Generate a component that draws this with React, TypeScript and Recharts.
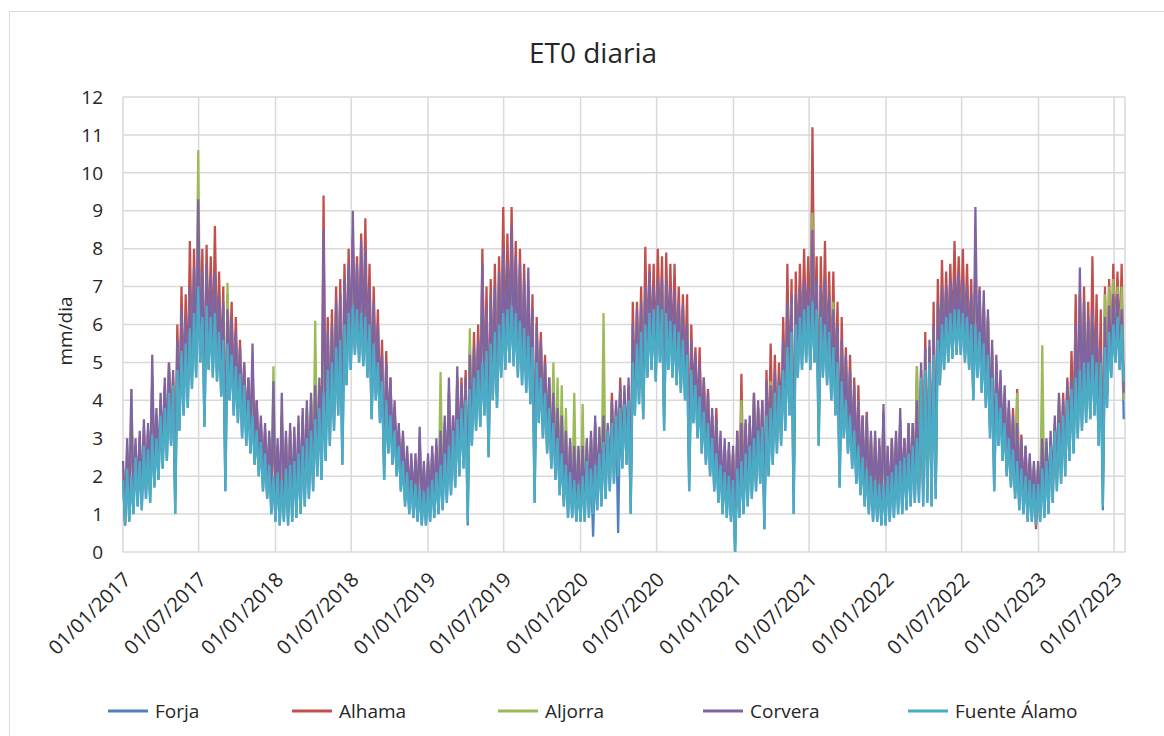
import { LineChart, Line, XAxis, YAxis, CartesianGrid } from "recharts";

// Each series is read as 10-day windows from 01/01/2017: the window's high
// (plotted at the window start) and its low (plotted 5 days later).
const WINDOW_DAYS = 10;

const forjaHigh = [
  1.9, 2.2, 2.0, 2.5, 2.4, 2.8, 2.7, 3.1, 3.0, 3.6,
  3.8, 4.2, 4.4, 4.8, 5.3, 5.5, 5.9, 6.3, 7.0, 6.2,
  6.5, 6.2, 6.3, 5.8, 5.6, 5.5, 5.2, 4.9, 4.7, 4.4,
  4.0, 3.6, 3.2, 2.9, 2.6, 2.3, 2.0, 2.1, 1.9, 2.2,
  2.3, 2.4, 2.6, 2.8, 3.0, 3.2, 3.5, 3.8, 4.2, 4.8,
  5.0, 5.4, 5.6, 6.0, 6.3, 6.5, 6.4, 6.3, 6.2, 6.0,
  5.5, 5.0, 4.5, 4.0, 3.6, 3.2, 2.8, 2.4, 2.1, 1.9,
  1.8, 1.7, 1.6, 1.7, 1.9, 2.1, 2.3, 2.6, 2.8, 3.2,
  3.5, 3.8, 4.0, 4.3, 4.6, 4.8, 5.0, 5.3, 5.5, 5.8,
  6.0, 6.3, 6.4, 6.5, 6.3, 6.1, 5.9, 5.7, 5.4, 5.0,
  4.6, 4.2, 3.8, 3.4, 3.0, 2.6, 2.3, 2.1, 1.9, 1.8,
  2.0, 2.4, 2.2, 2.3, 2.6, 2.9, 3.2, 3.4, 3.6, 3.8,
  3.9, 4.0, 5.0, 5.5, 5.8, 6.0, 6.3, 6.4, 6.5, 6.4,
  6.3, 6.1, 6.0, 5.8, 5.6, 5.2, 4.8, 4.4, 4.1, 3.7,
  3.4, 3.0, 2.6, 2.3, 2.1, 2.0, 1.9, 2.2, 2.4, 2.6,
  2.8, 3.0, 3.2, 3.3, 3.6, 3.8, 4.2, 4.4, 4.8, 5.4,
  5.8, 6.0, 6.2, 6.4, 6.5, 6.6, 6.4, 6.2, 6.0, 5.8,
  5.4, 5.0, 4.5, 4.0, 3.6, 3.2, 2.8, 2.5, 2.2, 2.0,
  1.9, 1.8, 1.8, 2.0, 2.1, 2.3, 2.4, 2.5, 2.6, 2.8,
  3.0, 4.6, 4.8, 5.0, 5.2, 5.6, 6.0, 6.2, 6.3, 6.4,
  6.4, 6.3, 6.2, 6.0, 6.0, 5.8, 5.5, 5.2, 4.6, 4.2,
  3.8, 3.4, 3.0, 2.7, 2.4, 2.2, 2.0, 1.9, 1.8, 1.8,
  2.2, 2.4, 2.8, 3.2, 3.4, 3.6, 4.0, 4.3, 4.6, 4.8,
  5.0, 5.0, 5.2, 5.0, 5.0, 5.4, 5.8, 6.0, 6.2, 6.0,
];
const forjaLow = [
  0.7, 0.8, 1.0, 1.2, 1.1, 1.4, 1.3, 1.7, 1.9, 2.2,
  2.4, 2.8, 1.0, 3.2, 3.6, 3.8, 4.3, 4.6, 5.0, 3.3,
  4.8, 4.6, 4.5, 4.1, 1.6, 4.0, 3.6, 3.4, 3.0, 2.8,
  2.6, 2.3, 2.0, 1.6, 1.4, 1.0, 0.8, 0.7, 0.8, 0.7,
  0.8, 0.9, 1.0, 1.2, 1.4, 1.6, 2.0, 1.9, 2.4, 2.8,
  3.2, 3.6, 2.3, 4.4, 4.8, 5.2, 5.0, 4.9, 4.6, 3.5,
  4.0, 3.4, 1.9, 2.6, 2.3, 2.0, 1.6, 1.2, 1.0, 0.9,
  0.8, 0.7, 0.7, 0.8, 0.9, 1.0, 1.1, 1.3, 1.5, 1.7,
  2.0, 2.2, 0.7, 2.8, 3.2, 3.3, 3.6, 2.5, 4.0, 3.8,
  4.6, 4.8, 5.0, 4.9, 4.6, 4.4, 4.2, 3.9, 1.3, 3.4,
  3.0, 2.6, 2.2, 1.9, 1.5, 1.2, 0.9, 0.9, 0.8, 0.8,
  0.8, 0.9, 0.4, 1.1, 1.2, 1.4, 1.6, 1.8, 0.5, 2.2,
  2.3, 1.0, 3.6, 3.9, 3.5, 4.6, 4.8, 4.5, 5.0, 3.2,
  4.8, 4.6, 4.4, 4.2, 4.0, 1.6, 3.4, 3.0, 2.6, 2.3,
  2.0, 1.6, 1.3, 1.0, 0.9, 0.8, 0.0, 0.9, 1.0, 1.2,
  1.4, 1.6, 1.8, 0.6, 2.0, 2.3, 2.6, 2.8, 3.2, 3.6,
  1.0, 4.6, 4.8, 5.0, 4.8, 5.0, 2.8, 4.6, 4.4, 4.0,
  3.6, 1.7, 3.0, 2.6, 2.2, 1.8, 1.5, 1.2, 1.0, 0.8,
  0.8, 0.7, 0.7, 0.8, 0.9, 1.0, 1.0, 1.1, 1.2, 1.3,
  1.3, 1.2, 1.3, 1.2, 1.4, 4.4, 4.8, 5.0, 5.1, 5.2,
  5.2, 5.0, 4.8, 4.0, 4.6, 4.2, 3.8, 3.0, 1.6, 2.8,
  2.4, 2.0, 1.7, 1.4, 1.1, 1.0, 0.8, 0.8, 0.7, 0.8,
  0.9, 1.0, 1.3, 1.6, 1.8, 2.0, 2.4, 2.6, 3.0, 3.2,
  3.4, 3.5, 3.6, 2.8, 1.1, 3.8, 4.6, 5.0, 4.8, 3.5,
];

const alhamaHigh = [
  2.2, 2.6, 3.6, 2.8, 3.0, 3.2, 3.2, 4.6, 3.6, 4.0,
  4.4, 5.0, 4.6, 6.0, 7.0, 6.8, 8.2, 8.0, 8.7, 8.0,
  8.1, 7.8, 8.6, 7.4, 7.0, 6.8, 6.6, 6.2, 5.6, 5.0,
  4.6, 4.8, 4.0, 3.4, 3.2, 3.0, 3.6, 2.8, 3.6, 3.0,
  3.2, 3.0, 3.4, 3.6, 3.8, 4.0, 4.2, 4.4, 9.4, 6.2,
  6.4, 7.0, 7.2, 7.6, 8.0, 8.3, 7.8, 8.4, 8.8, 7.6,
  7.0, 6.4, 5.6, 5.3, 4.6, 3.8, 3.2, 3.0, 2.6, 2.4,
  2.4, 3.0, 2.2, 2.4, 2.6, 2.8, 3.0, 3.4, 4.2, 3.6,
  4.6, 4.6, 4.8, 5.4, 5.8, 6.0, 8.0, 7.0, 7.2, 7.6,
  7.8, 9.1, 8.4, 9.1, 8.2, 8.0, 7.6, 7.0, 6.8, 6.2,
  5.8, 5.2, 4.6, 4.0, 3.8, 3.8, 3.0, 2.8, 2.6, 2.6,
  2.6, 2.8, 3.0, 3.4, 3.0, 3.6, 3.2, 4.2, 3.8, 4.6,
  4.2, 4.4, 6.6, 6.6, 7.0, 8.05, 7.6, 7.6, 8.0, 7.8,
  7.9, 7.6, 7.6, 7.0, 6.8, 6.8, 6.0, 5.4, 5.4, 4.6,
  4.3, 3.6, 3.8, 3.0, 2.8, 2.7, 2.6, 3.2, 4.7, 3.4,
  3.4, 4.2, 3.8, 4.0, 4.8, 5.5, 5.2, 5.0, 6.2, 7.6,
  7.2, 7.4, 7.6, 8.0, 7.8, 11.2, 7.8, 7.8, 8.2, 7.4,
  7.4, 6.6, 6.2, 5.4, 5.2, 4.6, 4.4, 3.6, 3.7, 3.0,
  3.0, 2.8, 3.7, 2.6, 3.0, 3.0, 3.5, 3.0, 3.4, 3.4,
  4.9, 4.8, 5.8, 5.4, 6.6, 7.2, 7.7, 7.4, 7.6, 8.2,
  7.8, 8.0, 7.6, 7.2, 7.4, 7.0, 6.5, 6.2, 5.3, 5.0,
  4.4, 4.0, 3.8, 3.8, 4.3, 3.1, 2.8, 2.4, 2.2, 2.2,
  2.8, 2.8, 3.0, 3.4, 4.0, 4.2, 4.6, 5.3, 6.8, 6.8,
  7.0, 6.6, 7.8, 6.8, 6.4, 7.0, 7.2, 7.6, 7.4, 7.6,
];
const alhamaLow = [
  0.7, 1.3, 1.4, 1.6, 1.5, 1.8, 1.8, 2.1, 2.3, 2.7,
  2.9, 3.3, 1.8, 3.7, 4.2, 4.4, 5.0, 5.3, 5.9, 4.2,
  5.6, 5.4, 5.2, 4.8, 2.6, 4.7, 4.2, 4.0, 3.6, 3.3,
  3.1, 2.8, 2.5, 2.1, 1.9, 1.5, 1.3, 1.2, 1.3, 1.2,
  1.3, 1.4, 1.5, 1.7, 1.9, 2.1, 2.5, 2.5, 2.9, 3.4,
  3.8, 4.2, 3.2, 5.0, 5.4, 5.8, 5.6, 5.5, 5.2, 4.2,
  4.6, 4.0, 2.5, 3.1, 2.8, 2.5, 2.1, 1.7, 1.5, 1.4,
  1.3, 1.2, 1.2, 1.3, 1.4, 1.5, 1.6, 1.8, 2.0, 2.2,
  2.5, 2.7, 1.5, 3.3, 3.7, 3.8, 4.2, 3.2, 4.6, 4.4,
  5.2, 5.4, 5.6, 5.6, 5.2, 5.0, 4.8, 4.5, 2.2, 4.0,
  3.5, 3.1, 2.7, 2.4, 2.0, 1.7, 1.4, 1.4, 1.3, 1.3,
  1.3, 1.4, 1.5, 1.6, 1.7, 1.9, 2.1, 2.3, 2.5, 2.7,
  2.8, 1.6, 4.2, 4.5, 4.2, 5.2, 5.4, 5.2, 5.6, 4.0,
  5.4, 5.2, 5.0, 4.8, 4.6, 2.4, 4.0, 3.5, 3.1, 2.8,
  2.5, 2.1, 1.8, 1.5, 1.4, 1.3, 0.7, 1.4, 1.5, 1.7,
  1.9, 2.1, 2.3, 1.3, 2.5, 2.8, 3.1, 3.3, 3.8, 4.2,
  1.8, 5.2, 5.4, 5.6, 5.4, 5.6, 3.6, 5.2, 5.0, 4.6,
  4.2, 2.3, 3.5, 3.1, 2.7, 2.3, 2.0, 1.7, 1.5, 1.3,
  1.3, 1.2, 1.2, 1.3, 1.4, 1.5, 1.5, 1.6, 1.7, 1.8,
  1.8, 1.7, 1.8, 1.7, 1.9, 5.0, 5.4, 5.6, 5.7, 5.8,
  5.8, 5.6, 5.4, 4.6, 5.2, 4.8, 4.4, 3.5, 2.3, 3.3,
  2.9, 2.5, 2.2, 1.9, 1.6, 1.5, 1.3, 1.3, 0.6, 1.3,
  1.4, 1.5, 1.8, 2.1, 2.3, 2.5, 2.9, 3.1, 3.5, 3.8,
  4.0, 4.0, 4.2, 3.4, 2.0, 4.4, 5.2, 5.6, 5.4, 4.4,
];

const aljorraHigh = [
  2.2, 2.8, 4.3, 2.8, 3.0, 3.3, 3.2, 4.6, 3.6, 3.9,
  4.3, 4.8, 4.5, 5.4, 6.2, 6.0, 6.8, 7.2, 10.6, 7.0,
  7.2, 7.0, 7.1, 6.5, 6.3, 7.1, 5.9, 5.6, 5.2, 4.8,
  4.4, 4.8, 3.8, 3.4, 3.2, 3.0, 4.9, 2.8, 3.6, 2.9,
  3.2, 3.1, 3.4, 3.6, 3.8, 4.0, 6.1, 4.4, 5.4, 5.6,
  5.8, 6.4, 6.6, 6.9, 7.2, 7.6, 7.2, 7.4, 7.4, 6.6,
  6.2, 5.6, 4.9, 4.8, 4.3, 3.8, 3.2, 3.0, 2.6, 2.4,
  2.4, 3.0, 2.2, 2.4, 2.6, 2.8, 4.75, 3.4, 4.2, 3.4,
  4.6, 4.2, 4.4, 5.9, 5.2, 5.4, 7.0, 6.2, 6.6, 6.8,
  7.1, 7.8, 7.3, 8.0, 7.4, 7.2, 6.9, 6.8, 6.1, 5.8,
  5.3, 4.8, 4.3, 5.0, 4.6, 4.4, 3.8, 2.9, 4.2, 2.7,
  3.9, 2.9, 3.0, 3.4, 3.1, 6.3, 3.2, 3.8, 3.8, 4.2,
  4.2, 4.3, 5.8, 6.2, 6.3, 6.9, 7.1, 6.8, 7.0, 7.0,
  7.0, 6.8, 6.7, 6.4, 6.2, 5.8, 5.4, 5.0, 4.8, 4.4,
  4.0, 3.6, 3.4, 3.0, 2.8, 2.7, 2.6, 3.0, 4.0, 3.3,
  3.4, 4.0, 3.8, 3.8, 4.3, 4.5, 4.6, 4.4, 5.4, 6.4,
  6.6, 6.6, 6.8, 7.0, 6.8, 8.95, 7.0, 6.8, 7.0, 6.6,
  6.6, 5.8, 5.4, 5.0, 4.6, 4.2, 4.0, 3.4, 3.4, 3.0,
  3.0, 2.8, 3.4, 2.6, 2.8, 3.0, 3.4, 2.8, 3.2, 3.2,
  4.9, 4.8, 5.2, 5.4, 5.8, 6.5, 6.9, 6.8, 7.0, 7.0,
  7.2, 7.0, 6.8, 6.6, 7.0, 6.7, 6.6, 6.2, 5.4, 4.9,
  4.6, 4.2, 3.8, 3.4, 4.2, 2.9, 2.7, 2.5, 2.3, 2.3,
  5.45, 2.9, 3.0, 3.4, 4.1, 3.8, 4.3, 4.4, 5.8, 6.8,
  6.4, 6.0, 6.2, 5.8, 5.2, 6.8, 7.0, 7.2, 7.0, 7.0,
];
const aljorraLow = [
  1.0, 1.1, 1.2, 1.4, 1.3, 1.6, 1.6, 1.9, 2.1, 2.5,
  2.7, 3.1, 1.4, 3.5, 3.9, 4.1, 4.6, 4.9, 5.4, 3.8,
  5.2, 5.0, 4.9, 4.5, 2.2, 4.4, 3.9, 3.7, 3.3, 3.1,
  2.9, 2.6, 2.3, 1.9, 1.7, 1.3, 1.1, 1.0, 1.1, 1.0,
  1.1, 1.2, 1.3, 1.5, 1.7, 1.9, 2.3, 2.3, 2.7, 3.2,
  3.5, 3.9, 2.8, 4.7, 5.1, 5.5, 5.3, 5.2, 4.9, 3.9,
  4.3, 3.7, 2.3, 2.9, 2.6, 2.3, 1.9, 1.5, 1.3, 1.2,
  1.1, 1.0, 1.0, 1.1, 1.2, 1.3, 1.4, 1.6, 1.8, 2.0,
  2.3, 2.5, 1.2, 3.1, 3.5, 3.6, 3.9, 2.9, 4.3, 4.1,
  4.9, 5.1, 5.3, 5.3, 4.9, 4.7, 4.5, 4.2, 1.8, 3.7,
  3.3, 2.9, 2.5, 2.2, 1.8, 1.5, 1.2, 1.2, 1.1, 1.1,
  1.1, 1.2, 1.3, 1.4, 1.5, 1.7, 1.9, 2.1, 2.3, 2.5,
  2.6, 1.3, 3.9, 4.2, 3.9, 4.9, 5.1, 4.9, 5.3, 3.6,
  5.1, 4.9, 4.7, 4.5, 4.3, 2.0, 3.7, 3.3, 2.9, 2.6,
  2.3, 1.9, 1.6, 1.3, 1.2, 1.1, 0.4, 1.2, 1.3, 1.5,
  1.7, 1.9, 2.1, 1.0, 2.3, 2.6, 2.9, 3.1, 3.5, 3.9,
  1.4, 4.9, 5.1, 5.3, 5.1, 5.3, 3.2, 4.9, 4.7, 4.3,
  3.9, 2.0, 3.3, 2.9, 2.5, 2.1, 1.8, 1.5, 1.3, 1.1,
  1.1, 1.0, 1.0, 1.1, 1.2, 1.3, 1.3, 1.4, 1.5, 1.6,
  1.6, 1.5, 1.6, 1.5, 1.7, 4.7, 5.1, 5.3, 5.4, 5.5,
  5.5, 5.3, 5.1, 4.3, 4.9, 4.5, 4.1, 3.3, 2.0, 3.1,
  2.7, 2.3, 2.0, 1.7, 1.4, 1.3, 1.1, 1.1, 1.0, 1.1,
  1.2, 1.3, 1.6, 1.9, 2.1, 2.3, 2.7, 2.9, 3.3, 3.5,
  3.7, 3.8, 3.9, 3.1, 1.6, 4.1, 4.9, 5.3, 5.1, 4.0,
];

const corveraHigh = [
  2.4, 3.0, 4.3, 3.0, 3.2, 3.5, 3.4, 5.2, 3.8, 4.2,
  4.6, 5.0, 4.8, 5.6, 6.4, 6.2, 7.0, 7.5, 9.3, 7.4,
  7.6, 7.3, 7.4, 6.8, 6.6, 6.4, 6.2, 5.8, 5.4, 5.0,
  4.6, 5.5, 4.0, 3.6, 3.4, 3.2, 4.5, 3.0, 4.2, 3.2,
  3.4, 3.3, 3.6, 3.8, 4.0, 4.2, 4.4, 4.6, 8.5, 5.8,
  6.0, 6.6, 6.8, 7.2, 7.6, 9.0, 7.6, 8.2, 8.0, 7.0,
  6.6, 6.0, 5.2, 5.0, 4.6, 4.0, 3.4, 3.2, 2.8, 2.6,
  2.6, 3.3, 2.4, 2.6, 2.8, 3.0, 3.2, 3.6, 4.6, 3.6,
  4.9, 4.4, 4.6, 5.2, 5.4, 5.6, 7.6, 6.4, 6.8, 7.0,
  7.4, 8.0, 7.6, 8.6, 7.8, 7.6, 7.2, 7.5, 6.4, 6.0,
  5.6, 5.0, 4.6, 4.2, 3.8, 3.6, 3.2, 3.0, 2.8, 2.8,
  2.8, 3.0, 3.2, 3.6, 3.3, 3.6, 3.4, 4.0, 4.0, 4.4,
  4.4, 4.6, 6.0, 6.4, 6.6, 7.0, 7.4, 7.0, 7.2, 7.2,
  7.2, 7.0, 6.9, 6.6, 6.5, 6.0, 5.6, 5.2, 5.0, 4.6,
  4.2, 3.8, 3.5, 3.2, 3.0, 2.9, 2.8, 3.2, 3.4, 3.5,
  3.6, 4.2, 4.0, 4.0, 4.5, 4.4, 4.8, 4.6, 5.6, 6.6,
  6.8, 6.8, 7.0, 7.2, 7.0, 8.5, 7.2, 7.0, 7.2, 6.8,
  6.4, 6.0, 5.6, 5.2, 4.8, 4.4, 4.0, 3.6, 3.6, 3.2,
  3.2, 3.0, 3.9, 2.8, 3.0, 3.2, 3.8, 3.0, 3.4, 3.4,
  4.0, 5.0, 5.4, 5.6, 6.0, 6.6, 7.0, 7.0, 7.2, 7.2,
  7.4, 7.2, 7.0, 6.8, 9.1, 6.9, 6.9, 6.4, 5.6, 5.2,
  4.8, 4.4, 4.0, 3.6, 3.4, 3.0, 2.8, 2.6, 2.4, 2.4,
  3.0, 3.0, 3.2, 3.6, 4.2, 4.0, 4.5, 4.6, 6.0, 7.5,
  6.6, 6.2, 6.4, 6.0, 5.4, 6.2, 6.5, 6.8, 6.8, 6.4,
];
const corveraLow = [
  1.0, 1.2, 1.3, 1.5, 1.4, 1.7, 1.7, 2.0, 2.2, 2.6,
  2.8, 3.2, 1.6, 3.6, 4.0, 4.2, 4.8, 5.0, 5.6, 4.0,
  5.4, 5.2, 5.0, 4.6, 2.4, 4.5, 4.0, 3.8, 3.4, 3.2,
  3.0, 2.7, 2.4, 2.0, 1.8, 1.4, 1.2, 1.1, 1.2, 1.1,
  1.2, 1.3, 1.4, 1.6, 1.8, 2.0, 2.4, 2.4, 2.8, 3.3,
  3.6, 4.0, 3.0, 4.8, 5.2, 5.6, 5.4, 5.3, 5.0, 4.0,
  4.4, 3.8, 2.4, 3.0, 2.7, 2.4, 2.0, 1.6, 1.4, 1.3,
  1.2, 1.1, 1.1, 1.2, 1.3, 1.4, 1.5, 1.7, 1.9, 2.1,
  2.4, 2.6, 1.4, 3.2, 3.6, 3.7, 4.0, 3.0, 4.4, 4.2,
  5.0, 5.2, 5.4, 5.4, 5.0, 4.8, 4.6, 4.3, 2.0, 3.8,
  3.4, 3.0, 2.6, 2.3, 1.9, 1.6, 1.3, 1.3, 1.2, 1.2,
  1.2, 1.3, 1.4, 1.5, 1.6, 1.8, 2.0, 2.2, 2.4, 2.6,
  2.7, 1.5, 4.0, 4.3, 4.0, 5.0, 5.2, 5.0, 5.4, 3.8,
  5.2, 5.0, 4.8, 4.6, 4.4, 2.2, 3.8, 3.4, 3.0, 2.7,
  2.4, 2.0, 1.7, 1.4, 1.3, 1.2, 0.6, 1.3, 1.4, 1.6,
  1.8, 2.0, 2.2, 1.2, 2.4, 2.7, 3.0, 3.2, 3.6, 4.0,
  1.6, 5.0, 5.2, 5.4, 5.2, 5.4, 3.4, 5.0, 4.8, 4.4,
  4.0, 2.2, 3.4, 3.0, 2.6, 2.2, 1.9, 1.6, 1.4, 1.2,
  1.2, 1.1, 1.1, 1.2, 1.3, 1.4, 1.4, 1.5, 1.6, 1.7,
  1.7, 1.6, 1.7, 1.6, 1.8, 4.8, 5.2, 5.4, 5.5, 5.6,
  5.6, 5.4, 5.2, 4.4, 5.0, 4.6, 4.2, 3.4, 2.2, 3.2,
  2.8, 2.4, 2.1, 1.8, 1.5, 1.4, 1.2, 1.2, 1.1, 1.2,
  1.3, 1.4, 1.7, 2.0, 2.2, 2.4, 2.8, 3.0, 3.4, 3.6,
  3.8, 3.9, 4.0, 3.2, 1.8, 4.2, 5.0, 5.4, 5.2, 4.2,
];

const fuenteAlamoHigh = [
  1.9, 2.2, 2.0, 2.5, 2.4, 2.8, 2.7, 3.1, 3.0, 3.6,
  3.8, 4.2, 4.4, 4.8, 5.3, 5.5, 5.9, 6.3, 7.0, 6.2,
  6.5, 6.2, 6.3, 5.8, 5.6, 5.5, 5.2, 4.9, 4.7, 4.4,
  4.0, 3.6, 3.2, 2.9, 2.6, 2.3, 2.0, 2.1, 1.9, 2.2,
  2.3, 2.4, 2.6, 2.8, 3.0, 3.2, 3.5, 3.8, 4.2, 4.8,
  5.0, 5.4, 5.6, 6.0, 6.3, 6.5, 6.4, 6.3, 6.2, 6.0,
  5.5, 5.0, 4.5, 4.0, 3.6, 3.2, 2.8, 2.4, 2.1, 1.9,
  1.8, 1.7, 1.6, 1.7, 1.9, 2.1, 2.3, 2.6, 2.8, 3.2,
  3.5, 3.8, 4.0, 4.3, 4.6, 4.8, 5.0, 5.3, 5.5, 5.8,
  6.0, 6.3, 6.4, 6.5, 6.3, 6.1, 5.9, 5.7, 5.4, 5.0,
  4.6, 4.2, 3.8, 3.4, 3.0, 2.6, 2.3, 2.1, 1.9, 1.8,
  2.0, 2.4, 2.2, 2.3, 2.6, 2.9, 3.2, 3.4, 3.6, 3.8,
  3.9, 4.0, 5.0, 5.5, 5.8, 6.0, 6.3, 6.4, 6.5, 6.4,
  6.3, 6.1, 6.0, 5.8, 5.6, 5.2, 4.8, 4.4, 4.1, 3.7,
  3.4, 3.0, 2.6, 2.3, 2.1, 2.0, 1.9, 2.2, 2.4, 2.6,
  2.8, 3.0, 3.2, 3.3, 3.6, 3.8, 4.2, 4.4, 4.8, 5.4,
  5.8, 6.0, 6.2, 6.4, 6.5, 6.6, 6.4, 6.2, 6.0, 5.8,
  5.4, 5.0, 4.5, 4.0, 3.6, 3.2, 2.8, 2.5, 2.2, 2.0,
  1.9, 1.8, 1.8, 2.0, 2.1, 2.3, 2.4, 2.5, 2.6, 2.8,
  3.0, 4.6, 4.8, 5.0, 5.2, 5.6, 6.0, 6.2, 6.3, 6.4,
  6.4, 6.3, 6.2, 6.0, 6.0, 5.8, 5.5, 5.2, 4.6, 4.2,
  3.8, 3.4, 3.0, 2.7, 2.4, 2.2, 2.0, 1.9, 1.8, 1.8,
  2.2, 2.4, 2.8, 3.2, 3.4, 3.6, 4.0, 4.3, 4.6, 4.8,
  5.0, 5.0, 5.2, 5.0, 5.0, 5.4, 5.8, 6.0, 6.2, 6.0,
];
const fuenteAlamoLow = [
  0.7, 0.8, 1.0, 1.2, 1.1, 1.4, 1.3, 1.7, 1.9, 2.2,
  2.4, 2.8, 1.0, 3.2, 3.6, 3.8, 4.3, 4.6, 5.0, 3.3,
  4.8, 4.6, 4.5, 4.1, 1.6, 4.0, 3.6, 3.4, 3.0, 2.8,
  2.6, 2.3, 2.0, 1.6, 1.4, 1.0, 0.8, 0.7, 0.8, 0.7,
  0.8, 0.9, 1.0, 1.2, 1.4, 1.6, 2.0, 1.9, 2.4, 2.8,
  3.2, 3.6, 2.3, 4.4, 4.8, 5.2, 5.0, 4.9, 4.6, 3.5,
  4.0, 3.4, 1.9, 2.6, 2.3, 2.0, 1.6, 1.2, 1.0, 0.9,
  0.8, 0.7, 0.7, 0.8, 0.9, 1.0, 1.1, 1.3, 1.5, 1.7,
  2.0, 2.2, 0.8, 2.8, 3.2, 3.3, 3.6, 2.5, 4.0, 3.8,
  4.6, 4.8, 5.0, 4.9, 4.6, 4.4, 4.2, 3.9, 1.3, 3.4,
  3.0, 2.6, 2.2, 1.9, 1.5, 1.2, 0.9, 0.9, 0.8, 0.8,
  0.8, 0.9, 1.0, 1.1, 1.2, 1.4, 1.6, 1.8, 2.0, 2.2,
  2.3, 1.0, 3.6, 3.9, 3.5, 4.6, 4.8, 4.5, 5.0, 3.2,
  4.8, 4.6, 4.4, 4.2, 4.0, 1.6, 3.4, 3.0, 2.6, 2.3,
  2.0, 1.6, 1.3, 1.0, 0.9, 0.8, 0.0, 0.9, 1.0, 1.2,
  1.4, 1.6, 1.8, 0.6, 2.0, 2.3, 2.6, 2.8, 3.2, 3.6,
  1.0, 4.6, 4.8, 5.0, 4.8, 5.0, 2.8, 4.6, 4.4, 4.0,
  3.6, 1.7, 3.0, 2.6, 2.2, 1.8, 1.5, 1.2, 1.0, 0.8,
  0.8, 0.7, 0.7, 0.8, 0.9, 1.0, 1.0, 1.1, 1.2, 1.3,
  1.3, 1.2, 1.3, 1.2, 1.4, 4.4, 4.8, 5.0, 5.1, 5.2,
  5.2, 5.0, 4.8, 4.0, 4.6, 4.2, 3.8, 3.0, 1.6, 2.8,
  2.4, 2.0, 1.7, 1.4, 1.1, 1.0, 0.8, 0.8, 0.7, 0.8,
  0.9, 1.0, 1.3, 1.6, 1.8, 2.0, 2.4, 2.6, 3.0, 3.2,
  3.4, 3.5, 3.6, 2.8, 1.2, 3.8, 4.6, 5.0, 4.8, 4.5,
];

// days since 01/01/2017 for every 01/01 and 01/07
const tickDays = [0, 181, 365, 546, 730, 911, 1095, 1277, 1461, 1642, 1826, 2007, 2191, 2372];
const tickLabels = [
  "01/01/2017", "01/07/2017", "01/01/2018", "01/07/2018", "01/01/2019",
  "01/07/2019", "01/01/2020", "01/07/2020", "01/01/2021", "01/07/2021",
  "01/01/2022", "01/07/2022", "01/01/2023", "01/07/2023",
];
const yTicks = [0, 1, 2, 3, 4, 5, 6, 7, 8, 9, 10, 11, 12];

const series = [
  { key: "forja", name: "Forja", color: "#4F81BD", high: forjaHigh, low: forjaLow },
  { key: "alhama", name: "Alhama", color: "#C0504D", high: alhamaHigh, low: alhamaLow },
  { key: "aljorra", name: "Aljorra", color: "#9BBB59", high: aljorraHigh, low: aljorraLow },
  { key: "corvera", name: "Corvera", color: "#8064A2", high: corveraHigh, low: corveraLow },
  { key: "fuenteAlamo", name: "Fuente Álamo", color: "#4BACC6", high: fuenteAlamoHigh, low: fuenteAlamoLow },
];

const data: Record<string, number>[] = [];
fuenteAlamoHigh.forEach((_, i) => {
  const hi: Record<string, number> = { day: i * WINDOW_DAYS };
  const lo: Record<string, number> = { day: i * WINDOW_DAYS + WINDOW_DAYS / 2 };
  series.forEach((s) => {
    hi[s.key] = s.high[i];
    lo[s.key] = s.low[i];
  });
  data.push(hi, lo);
});

const FONT = "'Open Sans', 'DejaVu Sans', sans-serif";
const TEXT = "#262626";
const GRID = "#d9d9d9";

function DateTick(props: any) {
  const { x, y, payload } = props;
  const idx = tickDays.indexOf(payload.value);
  const lx = x + 9;
  const ly = y + 29;
  return (
    <text
      x={lx}
      y={ly}
      textAnchor="end"
      transform={`rotate(-45, ${lx}, ${ly})`}
      fontSize={20}
      fontFamily={FONT}
      fill={TEXT}
    >
      {idx >= 0 ? tickLabels[idx] : ""}
    </text>
  );
}

const legendX = [108, 292, 498, 703, 908];

export default function App() {
  return (
    <div
      style={{
        position: "absolute",
        left: 0,
        top: 0,
        width: 1164,
        height: 736,
        overflow: "hidden",
        background: "#fff",
        fontFamily: FONT,
      }}
    >
      <div
        style={{
          position: "absolute",
          left: 9,
          top: 11,
          width: 1180,
          height: 760,
          border: `1px solid ${GRID}`,
        }}
      />
      <div style={{ position: "absolute", left: 0, top: 0 }}>
        <LineChart
          width={1164}
          height={736}
          data={data}
          margin={{ top: 97, right: 39, bottom: 154, left: 63 }}
        >
          <CartesianGrid stroke={GRID} strokeWidth={1.5} />
          <XAxis
            dataKey="day"
            type="number"
            domain={[0, 2398]}
            ticks={tickDays}
            interval={0}
            axisLine={false}
            tickLine={false}
            tickSize={0}
            tickMargin={0}
            height={30}
            tick={<DateTick />}
          />
          <YAxis
            type="number"
            domain={[0, 12]}
            ticks={yTicks}
            interval={0}
            width={60}
            axisLine={false}
            tickLine={false}
            tickSize={0}
            tickMargin={20}
            tick={{ fill: TEXT, fontSize: 19, fontFamily: FONT }}
          />
          {series.map((s) => (
            <Line
              key={s.key}
              type="linear"
              dataKey={s.key}
              name={s.name}
              stroke={s.color}
              strokeWidth={2.25}
              dot={false}
              isAnimationActive={false}
            />
          ))}
        </LineChart>
      </div>
      <svg
        width={1164}
        height={736}
        style={{ position: "absolute", left: 0, top: 0, pointerEvents: "none" }}
      >
        <text x={593} y={63} textAnchor="middle" fontSize={28} fontFamily={FONT} fill={TEXT}>
          ET0 diaria
        </text>
        <text
          x={72}
          y={331}
          textAnchor="middle"
          transform="rotate(-90, 72, 331)"
          fontSize={19}
          fontFamily={FONT}
          fill={TEXT}
        >
          mm/dia
        </text>
        {series.map((s, i) => (
          <g key={s.key}>
            <line x1={legendX[i]} y1={711} x2={legendX[i] + 40} y2={711} stroke={s.color} strokeWidth={3} />
            <text x={legendX[i] + 47} y={718} fontSize={19} fontFamily={FONT} fill={TEXT}>
              {s.name}
            </text>
          </g>
        ))}
      </svg>
    </div>
  );
}
